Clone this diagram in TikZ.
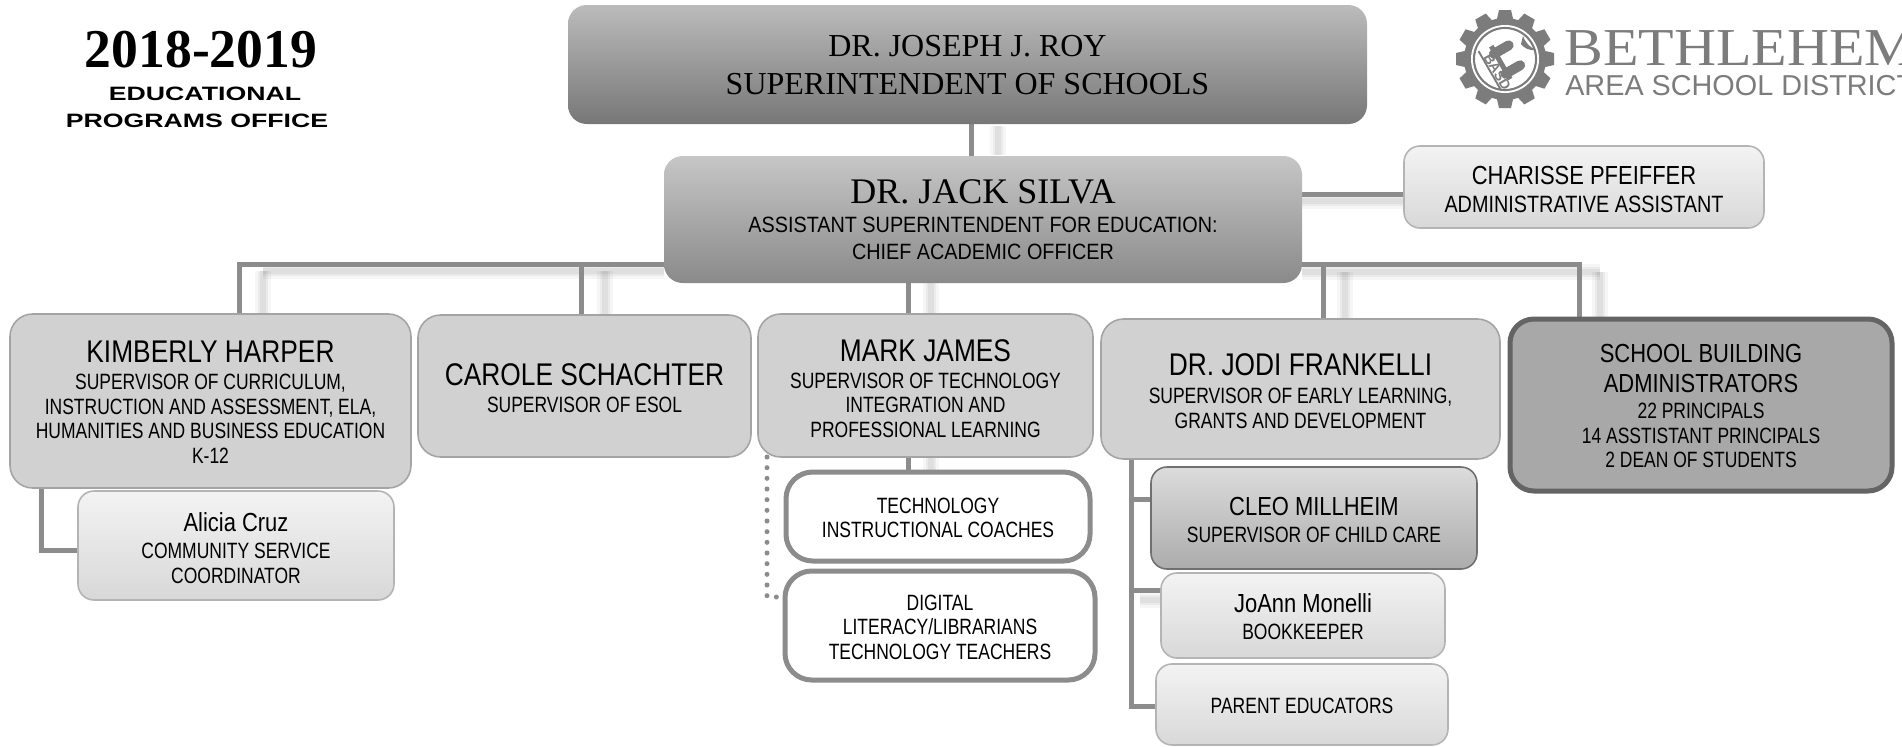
\documentclass[tikz,border=0pt]{standalone}
\usetikzlibrary{backgrounds}
\usepackage{fontspec}
\setmainfont{Liberation Serif}
\newfontfamily\nar[FakeStretch=0.84]{Liberation Sans}
\newfontfamily\narS[FakeStretch=0.79]{Liberation Sans}
\newfontfamily\narW[FakeStretch=0.895]{Liberation Sans}
\newfontfamily\wide[FakeStretch=1.38]{Liberation Sans}
\newfontfamily\yearfont[FakeStretch=0.98]{Liberation Serif}
\newfontfamily\logoserif[FakeStretch=1.09]{Liberation Serif}
\newfontfamily\logosans{Liberation Sans}
\definecolor{connc}{HTML}{8C8C8C}
\definecolor{logog}{HTML}{7C7C7C}
\definecolor{royT}{HTML}{BBBBBB}
\definecolor{royB}{HTML}{777777}
\definecolor{silT}{HTML}{C6C6C6}
\definecolor{silB}{HTML}{8A8A8A}
\definecolor{ligT}{HTML}{F3F3F3}
\definecolor{ligB}{HTML}{D8D8D8}
\definecolor{ligD}{HTML}{B4B4B4}
\definecolor{supD}{HTML}{A4A4A4}
\definecolor{supF}{HTML}{D1D1D1}
\definecolor{cleD}{HTML}{707070}
\definecolor{cleT}{HTML}{DCDCDC}
\definecolor{cleB}{HTML}{ACACAC}
\definecolor{schD}{HTML}{646464}
\definecolor{schF}{HTML}{A8A8A8}
\newcommand\fsz[2]{\fontsize{#1}{#2}\selectfont}
\newcommand\nm[1]{{\nar\fsz{23.5}{18.3}#1}}
\newcommand\nmS[1]{{\nar\fsz{19.6}{18.3}#1}}
\newcommand\nmR[1]{{\rmfamily\fsz{24}{28}#1}}
% \orgbox{dy}{name}{style}{x1}{y1}{x2}{y2}{text}: a box, and its text dy pixels below its centre
\newcommand\orgbox[8]{%
  \node[#3,minimum width={(#6-#4)*0.75},minimum height={(#7-#5)*0.75}] (#2) at ({(#4+#6)/2},{(#5+#7)/2}) {};%
  \node[orgtext] (#2-text) at ([yshift={-(#1)*0.75}]#2.center) {#8};}
\newcommand\softline[1]{\draw[softA] #1; \draw[softB] #1; \draw[softC] #1;}
\tikzset{
  x=0.75pt,y=-0.75pt,
  orgbase/.style={rectangle,inner sep=0pt,outer sep=0pt},
  orgtext/.style={align=center,inner sep=0pt,outer sep=0pt,text=black,font=\narS\fsz{16.6}{18.3}},
  royb/.style={orgbase,rounded corners=14pt,top color=royT,bottom color=royB},
  silvab/.style={orgbase,rounded corners=14pt,top color=silT,bottom color=silB},
  lightb/.style={orgbase,draw=ligD,line width=1.2pt,rounded corners=12pt,top color=ligT,bottom color=ligB},
  supb/.style={orgbase,draw=supD,line width=1.2pt,rounded corners=17pt,fill=supF},
  cleob/.style={orgbase,draw=cleD,line width=1.2pt,rounded corners=12pt,top color=cleT,bottom color=cleB},
  schoolb/.style={orgbase,draw=schD,line width=3.75pt,rounded corners=18pt,fill=schF},
  whiteb/.style={orgbase,draw=connc,line width=3.75pt,rounded corners=20pt,fill=white},
  conn/.style={draw=connc,line width=3.75pt},
  softA/.style={draw=black,opacity=0.035,line width=12pt},
  softB/.style={draw=black,opacity=0.045,line width=8pt},
  softC/.style={draw=black,opacity=0.05,line width=4pt},
}
\begin{document}
\begin{tikzpicture}
\useasboundingbox (0,0) rectangle (1902,746);
% title
\node[font=\yearfont\bfseries\fsz{41}{44},inner sep=0pt] (year) at (201,50) {2018-2019};
\node[font=\wide\bfseries\fsz{14.5}{16},inner sep=0pt] (edu) at (205,94) {EDUCATIONAL};
\node[font=\wide\bfseries\fsz{14.5}{16},inner sep=0pt] (prog) at (197,121) {PROGRAMS OFFICE};
% logo
\begin{scope}
\clip (0,0) rectangle (1902,746);
\node[anchor=base west,font=\logoserif\fsz{40}{42},text=logog,inner sep=0pt] (beth) at (1564,65) {BETHLEHEM};
\node[anchor=base west,font=\logosans\fsz{21.6}{24},text=logog,inner sep=0pt] (area) at (1565,95) {AREA SCHOOL DISTRICT};
\end{scope}
\begin{scope}[shift={(1505,59)}]
  \fill[logog] (0,0) circle[radius=41];
  \foreach \a in {0,30,...,330}{
    \fill[logog,rotate=\a] (-6,-49) -- (6,-49) -- (9,-36) -- (-9,-36) -- cycle;
  }
  \fill[white] (0,0) circle[radius=34];
  \draw[logog,line width=1.6pt] (0,0) circle[radius=31];
  \fill[white] (0,0) circle[radius=29.5];
  \begin{scope}[rotate=-60]
    \draw[logog,line width=7.5pt,line cap=round] (-10,7) -- (-10,-10);
    \draw[logog,line width=7.5pt,line cap=round] (13,7) -- (13,-10);
    \fill[logog] (-18,3) rectangle (20,8);
    \draw[logog,line width=1.4pt] (-20,19) -- (24,19);
  \end{scope}
  \node[font=\logosans\bfseries\fsz{10.5}{11},text=logog,inner sep=0pt,rotate=-60] (basd) at (-7.7,12.8) {BASD};
  \fill[logog] (18,-23) .. controls (21,-15) and (25,-12) .. (31,-9) .. controls (23,-8) and (18,-12) .. (16,-15) -- cycle;
\end{scope}
% boxes
\orgbox{0.6}{roy}{royb}{568}{5}{1367}{124}{\nmR{DR. JOSEPH J. ROY}\\[9.9pt]\nmR{SUPERINTENDENT OF SCHOOLS}}
\orgbox{0.6}{silva}{silvab}{664}{156}{1302}{283}{{\rmfamily\fsz{27}{18}DR. JACK SILVA}\\[3.5pt]{\narW ASSISTANT SUPERINTENDENT FOR EDUCATION:}\\[2pt]{\narW CHIEF ACADEMIC OFFICER}}
\orgbox{2.4}{charisse}{lightb}{1404}{146}{1764}{228}{{\nar\fsz{19.6}{18}CHARISSE PFEIFFER}\\[3pt]{\nar\fsz{17.7}{18}ADMINISTRATIVE ASSISTANT}}
\orgbox{1.2}{kim}{supb}{10}{314}{411}{488}{\nm{KIMBERLY HARPER}\\[2pt]SUPERVISOR OF CURRICULUM,\\INSTRUCTION AND ASSESSMENT, ELA,\\HUMANITIES AND BUSINESS EDUCATION\\K-12}
\orgbox{2}{carole}{supb}{418}{315}{751}{457}{\nm{CAROLE SCHACHTER}\\[2.2pt]SUPERVISOR OF ESOL}
\orgbox{3}{mark}{supb}{758}{314}{1093}{457}{\nm{MARK JAMES}\\[2pt]SUPERVISOR OF TECHNOLOGY\\INTEGRATION AND\\PROFESSIONAL LEARNING}
\orgbox{2}{jodi}{supb}{1101}{319}{1500}{459}{\nm{DR. JODI FRANKELLI}\\[3pt]SUPERVISOR OF EARLY LEARNING,\\GRANTS AND DEVELOPMENT}
\orgbox{1}{school}{schoolb}{1510}{319}{1892}{491}{\nmS{SCHOOL BUILDING}\\[4.5pt]\nmS{ADMINISTRATORS}\\[1pt]22 PRINCIPALS\\14 ASSTISTANT PRINCIPALS\\2 DEAN OF STUDENTS}
\orgbox{2.4}{alicia}{lightb}{78}{491}{394}{600}{\nmS{Alicia Cruz}\\[2pt]COMMUNITY SERVICE\\COORDINATOR}
\orgbox{1.2}{tech}{whiteb}{786}{472}{1090}{561}{TECHNOLOGY\\INSTRUCTIONAL COACHES}
\orgbox{1.8}{digital}{whiteb}{785}{571}{1095}{680}{DIGITAL\\LITERACY/LIBRARIANS\\TECHNOLOGY TEACHERS}
\orgbox{2.4}{cleo}{cleob}{1151}{467}{1477}{569}{\nmS{CLEO MILLHEIM}\\[2pt]SUPERVISOR OF CHILD CARE}
\orgbox{1.2}{joann}{lightb}{1161}{573}{1445}{658}{\nmS{JoAnn Monelli}\\[2pt]BOOKKEEPER}
\orgbox{1.2}{parent}{lightb}{1156}{664}{1448}{745}{PARENT EDUCATORS}
% lanes of the connectors
\coordinate (busL) at (239,264);
\coordinate (busR) at (1579,264);
\coordinate (carx) at (581,264);
\coordinate (markx) at (908,264);
\coordinate (jodix) at (1323,264);
\coordinate (royx) at (971,140);
\coordinate (charx) at (1350,194);
\coordinate (kimx) at (41,550);
\coordinate (jodiy) at (1131,706);
\coordinate (cleoy) at (1131,499);
\coordinate (joanny) at (1131,590);
\coordinate (dotc) at (767,597);
\begin{scope}[on background layer]
% soft shadows of the connectors
\softline{(263,271) -- (664,271)}
\softline{(263,271) -- (263,314)}
\softline{(605,271) -- (605,315)}
\softline{(931,283) -- (931,314)}
\softline{(998,126) -- (998,155)}
\softline{(1302,272) -- (1600,272)}
\softline{(1345,272) -- (1345,319)}
\softline{(1600,272) -- (1600,318)}
\softline{(1302,201) -- (1403,201)}
\softline{(931,457) -- (931,470)}
\softline{(1140,600) -- (1161,600)}
% connectors
\draw[conn] (royx |- roy.south) -- (royx |- silva.north);
\draw[conn] (silva.center |- busL) -- (busL) -- (busL |- kim.north);
\draw[conn] (silva.center |- busR) -- (busR) -- (busR |- school.north);
\draw[conn] (carx) -- (carx |- carole.north);
\draw[conn] (markx |- silva.south) -- (markx |- mark.north);
\draw[conn] (jodix) -- (jodix |- jodi.north);
\draw[conn] (silva.center |- charx) -- (charisse.center |- charx);
\draw[conn] (kimx |- kim.south) -- (kimx) -- (alicia.west |- kimx);
\draw[conn] (markx |- mark.south) -- (markx |- tech.north);
\draw[conn] (jodiy |- jodi.south) -- (jodiy) -- (parent.west |- jodiy);
\draw[conn] (cleoy) -- (cleo.west |- cleoy);
\draw[conn] (joanny) -- (joann.west |- joanny);
\draw[draw=connc,line width=3.75pt,line cap=round,dash pattern=on 0pt off 8pt] (dotc |- mark.south) -- (dotc) -- (digital.west |- dotc);
\end{scope}
\end{tikzpicture}
\end{document}
